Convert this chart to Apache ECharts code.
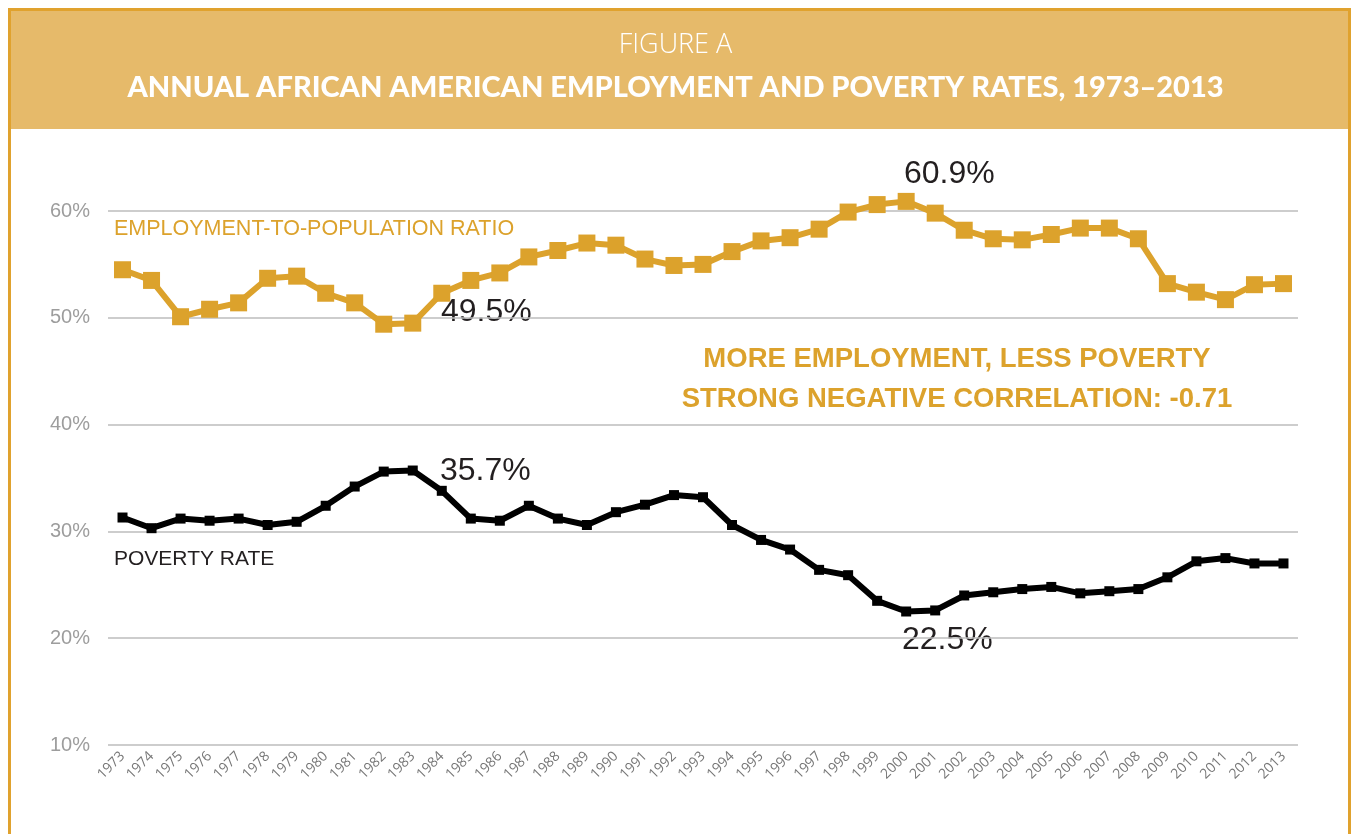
<!DOCTYPE html>
<html>
<head>
<meta charset="utf-8">
<title>Figure A</title>
<script src="https://cdn.jsdelivr.net/npm/echarts@6/dist/echarts.min.js"></script>
<style>
  html, body { margin: 0; padding: 0; background: #fff; }
  #main { width: 1351px; height: 834px; }
</style>
</head>
<body>
<div id="main"></div>
<script>
// years on the x axis
var years = [];
for (var y = 1973; y <= 2013; y++) years.push(String(y));

// employment-to-population ratio, %
var employment = [54.5, 53.5, 50.1, 50.8, 51.4, 53.7, 53.9, 52.3, 51.4, 49.4,
  49.5, 52.3, 53.5, 54.2, 55.7, 56.3, 57.0, 56.8, 55.5, 54.9,
  55.0, 56.2, 57.2, 57.5, 58.3, 59.9, 60.6, 60.9, 59.8, 58.2,
  57.4, 57.3, 57.8, 58.4, 58.4, 57.4, 53.2, 52.4, 51.7, 53.1, 53.2];

// poverty rate, %
var poverty = [31.3, 30.3, 31.2, 31.0, 31.2, 30.6, 30.9, 32.4, 34.2, 35.6,
  35.7, 33.8, 31.2, 31.0, 32.4, 31.2, 30.6, 31.8, 32.5, 33.4,
  33.2, 30.6, 29.2, 28.3, 26.4, 25.9, 23.5, 22.5, 22.6, 24.0,
  24.3, 24.6, 24.8, 24.2, 24.4, 24.6, 25.7, 27.2, 27.5, 27.0, 27.0];

var yTicks = [10, 20, 30, 40, 50, 60];

var gold = '#DCA22C';
var dark = '#231F20';
var helv = '"Liberation Sans", Arial, sans-serif';

var myChart = echarts.init(document.getElementById('main'));

var option = {
  backgroundColor: '#fff',
  animation: false,
  grid: { left: 108, right: 53, top: 211, bottom: 89, containLabel: false },
  xAxis: {
    type: 'category',
    data: years,
    boundaryGap: true,
    axisLine: { show: false },
    axisTick: { show: false },
    axisLabel: {
      rotate: 45,
      interval: 0,
      margin: 9,
      color: '#777777',
      fontSize: 14,
      fontFamily: '"Open Sans", sans-serif'
    }
  },
  yAxis: {
    type: 'value',
    min: yTicks[0],
    max: yTicks[yTicks.length - 1],
    interval: 10,
    axisLine: { show: false },
    axisTick: { show: false },
    axisLabel: {
      formatter: '{value}%',
      color: '#9d9d9d',
      fontSize: 20,
      margin: 18,
      fontFamily: helv
    },
    splitLine: { lineStyle: { color: '#bdbdbd', width: 1.5 } }
  },
  series: [
    {
      name: 'EMPLOYMENT-TO-POPULATION RATIO',
      type: 'line',
      data: employment,
      clip: false,
      symbol: 'rect',
      symbolSize: 17,
      itemStyle: { color: gold },
      lineStyle: { color: gold, width: 6 }
    },
    {
      name: 'POVERTY RATE',
      type: 'line',
      data: poverty,
      clip: false,
      symbol: 'rect',
      symbolSize: 10,
      itemStyle: { color: '#000' },
      lineStyle: { color: '#000', width: 6 }
    }
  ],
  graphic: [
    // header band and frame (top, left, right only)
    { type: 'rect', shape: { x: 10, y: 10, width: 1339, height: 119 },
      style: { fill: '#E6BA6A' }, z: 9 },
    { type: 'polyline', shape: { points: [[9.5, 834], [9.5, 9.5], [1349.5, 9.5], [1349.5, 834]] },
      style: { fill: 'none', stroke: '#E0A22E', lineWidth: 3 }, z: 10 },
    { type: 'text', left: 'center', top: 32, z: 11,
      style: { text: 'FIGURE A', fill: '#fff', fontSize: 27, fontWeight: 300,
        fontFamily: '"Open Sans", sans-serif' } },
    { type: 'text', left: 'center', top: 73, z: 11,
      style: { text: 'ANNUAL AFRICAN AMERICAN EMPLOYMENT AND POVERTY RATES, 1973\u20132013',
        fill: '#fff', fontSize: 29, fontWeight: 900,
        fontFamily: 'Lato, "Open Sans", sans-serif' } },
    // series labels
    { type: 'text', left: 114, top: 218,
      style: { text: 'EMPLOYMENT-TO-POPULATION RATIO', fill: gold, fontSize: 21.5, fontFamily: helv } },
    { type: 'text', left: 114, top: 549,
      style: { text: 'POVERTY RATE', fill: dark, fontSize: 21, fontFamily: helv } },
    // call-outs
    { type: 'text', left: 441, top: 296,
      style: { text: '49.5%', fill: dark, fontSize: 32, fontFamily: helv } },
    { type: 'text', left: 904, top: 158,
      style: { text: '60.9%', fill: dark, fontSize: 32, fontFamily: helv } },
    { type: 'text', left: 440, top: 455,
      style: { text: '35.7%', fill: dark, fontSize: 32, fontFamily: helv } },
    { type: 'text', left: 902, top: 624,
      style: { text: '22.5%', fill: dark, fontSize: 32, fontFamily: helv } },
    { type: 'text', x: 957, y: 345,
      style: { text: 'MORE EMPLOYMENT, LESS POVERTY', fill: gold, fontSize: 27.5,
        fontWeight: 'bold', fontFamily: helv, textAlign: 'center' } },
    { type: 'text', x: 957, y: 385,
      style: { text: 'STRONG NEGATIVE CORRELATION: -0.71', fill: gold, fontSize: 27.5,
        fontWeight: 'bold', fontFamily: helv, textAlign: 'center' } }
  ]
};

option && myChart.setOption(option);
</script>
</body>
</html>
